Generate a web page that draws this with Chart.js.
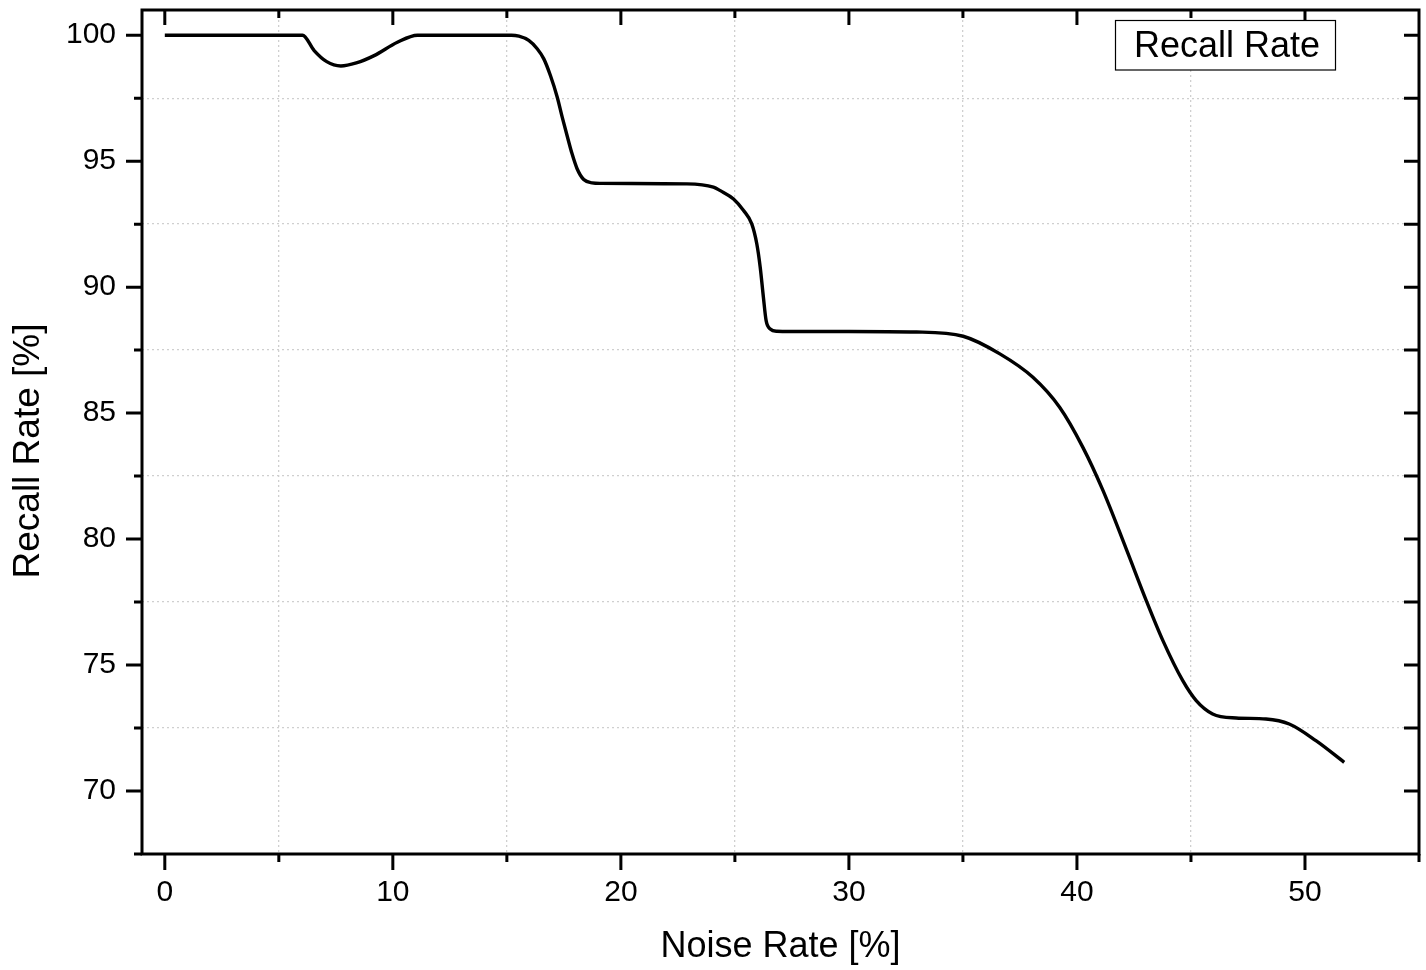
<!DOCTYPE html>
<html>
<head>
<meta charset="utf-8">
<script src="https://cdn.jsdelivr.net/npm/chart.js@4/dist/chart.umd.min.js"></script>
<style>
  html, body { margin: 0; padding: 0; background: #fff; }
  #wrap { width: 1426px; height: 970px; }
</style>
</head>
<body>
<div id="wrap"><canvas id="recall" width="1426" height="970"></canvas></div>
<script>
// noise rate [%] and recall rate [%] along the curve
const noiseRate = [
  0, 2, 4, 6.04, 6.55, 7.1, 7.72, 8.4, 9.18, 10.2, 11.08, 13, 15.2,
  15.53, 15.96, 16.33, 16.62, 16.91, 17.21, 17.43, 17.64, 17.86, 18.08, 18.37, 18.74, 19.1, 22.9,
  24.06, 24.36, 24.94, 25.38, 25.74, 25.96, 26.11, 26.25, 26.37, 26.55, 26.84, 27.42, 30, 32.97,
  35.01, 36.62, 38.07, 39.24, 40.26, 41.14, 42.16, 43.04, 43.77,
  44.64, 45.23, 45.95, 46.98, 48.29, 49.31, 50.48, 51.72
];
const recallRate = [
  100, 100, 100, 100, 99.39, 98.95, 98.78, 98.9, 99.19, 99.72, 100, 100, 100,
  99.96, 99.79, 99.46, 99.06, 98.4, 97.54, 96.74, 96.02, 95.29, 94.7, 94.27, 94.14, 94.12, 94.1,
  93.97, 93.83, 93.5, 93.04, 92.51, 91.72, 90.79, 89.6, 88.67, 88.34, 88.25, 88.24, 88.24, 88.22,
  88.05, 87.35, 86.42, 85.23, 83.64, 81.93, 79.61, 77.56, 75.97,
  74.38, 73.59, 73.06, 72.9, 72.86, 72.66, 72.0, 71.14
];

const xTicks = [0, 10, 20, 30, 40, 50];
const yTicks = [70, 75, 80, 85, 90, 95, 100];
const seriesName = 'Recall Rate';

const FONT = '"Liberation Sans", Arial, sans-serif';

// major + minor positions (minor halfway between majors)
const xAll = [];
for (let v = 0; v <= 50; v += 5) xAll.push(v);
const yAll = [];
for (let v = 67.5; v <= 100; v += 2.5) yAll.push(v);

const isMajorX = v => xTicks.includes(v);
const isMajorY = v => yTicks.includes(v);

const framePlugin = {
  id: 'frame',
  afterDraw(chart) {
    const { ctx, chartArea: a, scales } = chart;
    const xs = scales.x, ys = scales.y;
    ctx.save();
    ctx.strokeStyle = '#000';
    ctx.lineWidth = 3;
    ctx.lineCap = 'butt';
    ctx.beginPath();
    // bottom / top ticks
    xAll.concat([55]).forEach(v => {
      const px = xs.getPixelForValue(v);
      const major = isMajorX(v);
      ctx.moveTo(px, a.bottom); ctx.lineTo(px, a.bottom + (major ? 16 : 8));
      if (v < 55) { ctx.moveTo(px, a.top); ctx.lineTo(px, a.top + (major ? 15 : 8)); }
    });
    // left / right ticks
    yAll.forEach(v => {
      const py = ys.getPixelForValue(v);
      const major = isMajorY(v);
      ctx.moveTo(a.left, py); ctx.lineTo(a.left - (major ? 16 : 8), py);
      if (v > 67.5) { ctx.moveTo(a.right, py); ctx.lineTo(a.right - 15, py); }
    });
    ctx.stroke();
    ctx.strokeRect(a.left, a.top, a.right - a.left, a.bottom - a.top);

    // legend box
    ctx.fillStyle = '#fff';
    ctx.fillRect(1115.5, 20.5, 220, 49.5);
    ctx.lineWidth = 1.2;
    ctx.strokeRect(1115.5, 20.5, 220, 49.5);
    ctx.fillStyle = '#000';
    ctx.font = '36px ' + FONT;
    ctx.textBaseline = 'middle';
    ctx.textAlign = 'left';
    ctx.fillText(seriesName, 1134, 47);

    // axis titles
    ctx.textAlign = 'center';
    ctx.font = '36px ' + FONT;
    ctx.fillText('Noise Rate [%]', (a.left + a.right) / 2, 947);
    ctx.translate(29, 451);
    ctx.rotate(-Math.PI / 2);
    ctx.font = '37px ' + FONT;
    ctx.fillText('Recall Rate [%]', 0, 0);
    ctx.restore();
  }
};

const gridColor = ctx => (ctx.tick && ctx.tick.value % 10 === 5) ? '#cfcfcf' : 'rgba(0,0,0,0)';

new Chart(document.getElementById('recall'), {
  type: 'scatter',
  data: {
    datasets: [{
      label: seriesName,
      data: noiseRate.map((x, i) => ({ x: x, y: recallRate[i] })),
      showLine: true,
      borderColor: '#000',
      borderWidth: 3.4,
      pointRadius: 0,
      cubicInterpolationMode: 'monotone',
      fill: false
    }]
  },
  options: {
    responsive: false,
    animation: false,
    layout: { padding: { top: 10, right: 7, left: 0, bottom: 0 } },
    plugins: { legend: { display: false }, tooltip: { enabled: false } },
    scales: {
      x: {
        type: 'linear',
        min: -1,
        max: 55,
        afterBuildTicks: s => { s.ticks = xAll.map(v => ({ value: v })); },
        afterFit: s => { s.height = 116; s.paddingLeft = 0; s.paddingRight = 0; },
        ticks: {
          autoSkip: false,
          maxRotation: 0,
          padding: 21,
          color: '#000',
          font: { family: FONT, size: 30 },
          callback: v => isMajorX(v) ? String(v) : ''
        },
        grid: { drawTicks: false, color: gridColor, lineWidth: 1.3 },
        border: { display: false, dash: [2, 3] }
      },
      y: {
        type: 'linear',
        min: 67.5,
        max: 101,
        afterBuildTicks: s => { s.ticks = yAll.map(v => ({ value: v })); },
        afterFit: s => { s.width = 142; s.paddingTop = 0; s.paddingBottom = 0; },
        ticks: {
          autoSkip: false,
          padding: 26,
          color: '#000',
          font: { family: FONT, size: 30 },
          callback: v => isMajorY(v) ? String(v) : ''
        },
        grid: {
          drawTicks: false,
          lineWidth: 1.3,
          color: ctx => (ctx.tick && ctx.tick.value > 67.5 && !isMajorY(ctx.tick.value)) ? '#cfcfcf' : 'rgba(0,0,0,0)'
        },
        border: { display: false, dash: [2, 3] }
      }
    }
  },
  plugins: [framePlugin]
});
</script>
</body>
</html>
